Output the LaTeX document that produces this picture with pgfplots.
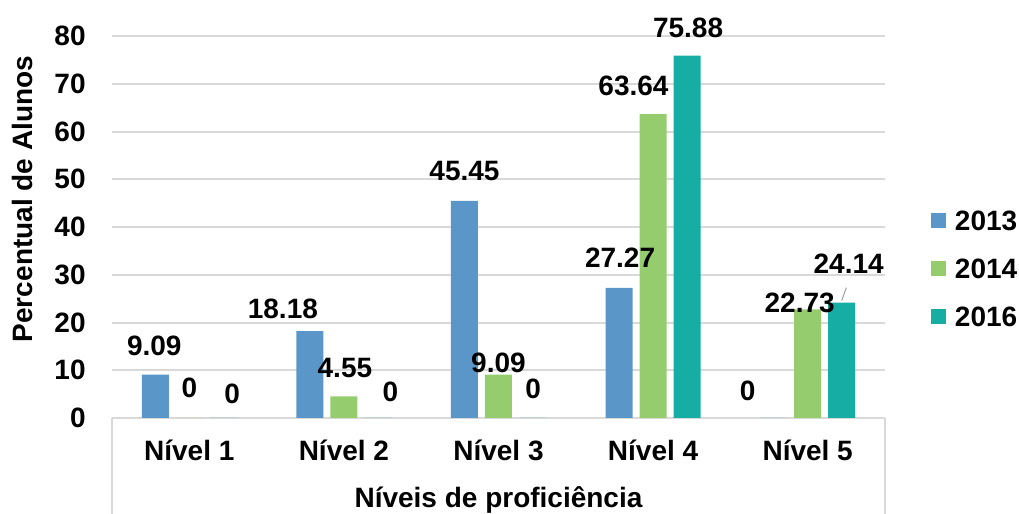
\documentclass[border=0pt]{standalone}
\usepackage{pgfplots}
\usepackage{pgfplotstable}
\pgfplotsset{compat=1.18}
\usepackage{fontspec}
\setmainfont{Liberation Sans}
\definecolor{cA}{RGB}{91,150,201}
\definecolor{cB}{RGB}{149,204,110}
\definecolor{cC}{RGB}{22,173,165}
\definecolor{gridc}{RGB}{217,217,217}

\pgfplotstableread{
x y dx dy lbl
0 9.09 -0.5 14.3 9.09
1 18.18 -13.5 11 18.18
2 45.45 0 15 45.45
3 27.27 0.5 15 27.27
4 0 -13 13.5 0
}\tA
\pgfplotstableread{
x y dx dy lbl
0 0 0 15 0
1 4.55 0.5 14 4.55
2 9.09 0 6 9.09
3 63.64 -9.8 14 63.64
4 22.73 -4 3.5 22.73
}\tB
\pgfplotstableread{
x y dx dy lbl
0 0 4.4 12.2 0
1 0 6.3 13.2 0
2 0 0.3 14.7 0
3 75.88 0.5 14 75.88
4 24.14 3.5 19.3 24.14
}\tC

\begin{document}
\begin{tikzpicture}[font=\fontsize{14}{16.8}\selectfont\bfseries]
\begin{axis}[
  scale only axis,
  width=386.5pt, height=191pt,
  xmin=-0.5, xmax=4.5, ymin=0, ymax=80,
  ybar=3.5pt, bar width=13.5pt,
  axis line style={draw=none},
  clip=false,
  ymajorgrids,
  grid style={gridc, line width=1pt},
  ytick={0,10,...,80},
  xtick={0,1,2,3,4},
  xticklabels={N\'ivel 1,N\'ivel 2,N\'ivel 3,N\'ivel 4,N\'ivel 5},
  major tick length=0pt,
  tick style={draw=none},
  /pgf/number format/assume math mode=true,
  yticklabel style={anchor=east, inner sep=0pt, xshift=-13pt},
  xticklabel style={anchor=base, inner sep=0pt, yshift=-21.5pt},
  xlabel={N\'iveis de profici\^encia},
  ylabel={Percentual de Alunos},
  xlabel style={at={(axis description cs:0.5,-0.233)}, anchor=base, inner sep=0pt},
  ylabel style={at={(axis description cs:-0.1022,0.573)}, anchor=base, inner sep=0pt},
  nodes near coords,
  point meta=explicit symbolic,
  visualization depends on={\thisrow{dx}\as\dx},
  visualization depends on={\thisrow{dy}\as\dy},
  nodes near coords style={anchor=center, inner sep=0pt, xshift=\dx pt, yshift=\dy pt},
  legend style={at={(rel axis cs:1.0595,0.542)}, anchor=north west, draw=none,
    inner sep=0pt, outer sep=0pt, row sep=14pt, column sep=4.5pt,
    nodes={inner sep=0pt, text height=10pt, text depth=0pt}},
  legend cell align=left,
  legend image code/.code={\fill[#1] (0pt,-3.75pt) rectangle (7.5pt,3.75pt);},
]
\addplot[fill=cA, draw=none] table[x=x, y=y, meta=lbl] {\tA};
\addplot[fill=cB, draw=none] table[x=x, y=y, meta=lbl] {\tB};
\addplot[fill=cC, draw=none] table[x=x, y=y, meta=lbl] {\tC};
\legend{2013,2014,2016}
\coordinate (O) at (rel axis cs:0,0);
\coordinate (R) at (rel axis cs:1,0);
\draw[gray!75, line width=0.5pt] (axis cs:4.22,24.6) -- (axis cs:4.25,27.3);
\end{axis}
\draw[gridc, line width=1pt] (O) -- ++(0,-60pt);
\draw[gridc, line width=1pt] (R) -- ++(0,-60pt);
\pgfresetboundingbox
\path (O) ++(-56pt,-48pt) rectangle ++(509.5pt,257pt);
\end{tikzpicture}
\end{document}
